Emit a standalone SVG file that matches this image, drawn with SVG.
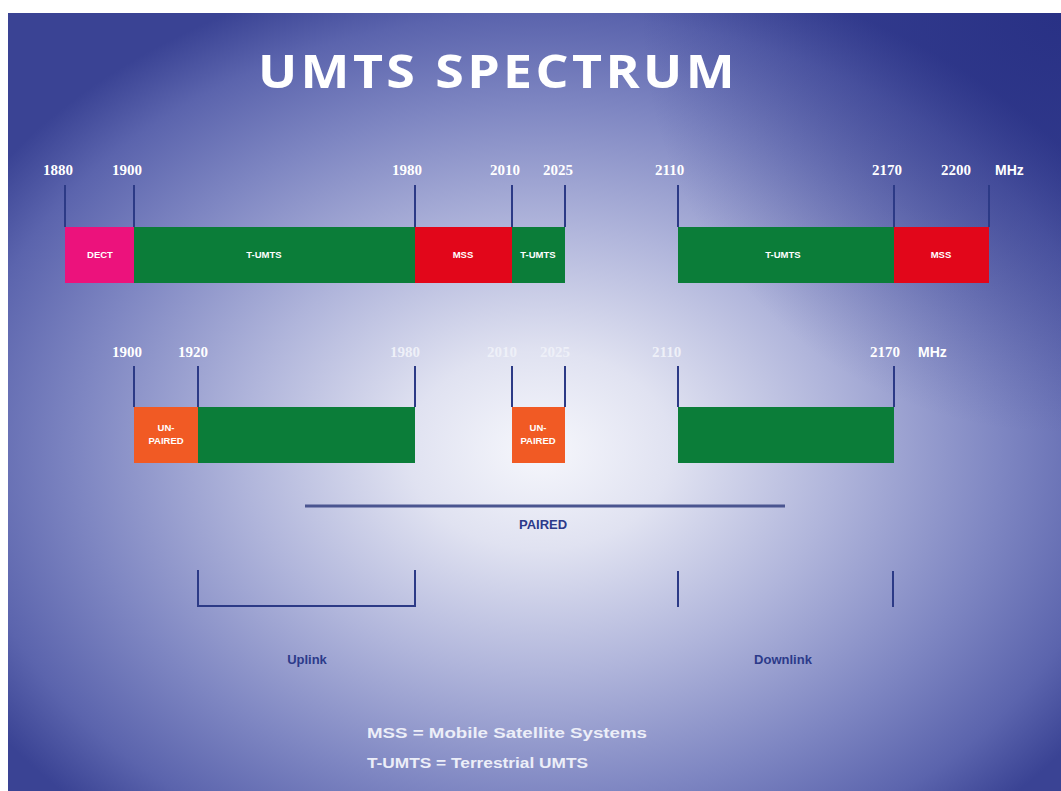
<svg xmlns="http://www.w3.org/2000/svg" width="1061" height="791" viewBox="0 0 1061 791">
<defs>
<radialGradient id="bg" gradientUnits="userSpaceOnUse" cx="540" cy="450" r="660" gradientTransform="translate(540 450) scale(1 0.75) translate(-540 -450)">
<stop offset="0" stop-color="#f6f7fc"/>
<stop offset="0.2" stop-color="#e0e2f1"/>
<stop offset="0.45" stop-color="#b0b5db"/>
<stop offset="0.7" stop-color="#7e86c2"/>
<stop offset="0.88" stop-color="#5b64ad"/>
<stop offset="1" stop-color="#3a4394"/>
</radialGradient>
<radialGradient id="corner" gradientUnits="userSpaceOnUse" cx="1061" cy="13" r="420">
<stop offset="0" stop-color="#232b80" stop-opacity="0.75"/>
<stop offset="1" stop-color="#232b80" stop-opacity="0"/>
</radialGradient>
<style>
.tick{stroke:#2c3a86;stroke-width:2;fill:none}
.num{font-family:"Liberation Serif","DejaVu Serif",serif;font-weight:bold;font-size:15px;fill:#ffffff}
.numf{font-family:"Liberation Serif","DejaVu Serif",serif;font-weight:bold;font-size:15px;fill:#eef0f8}
.mhz{font-family:"Liberation Sans",Arial,sans-serif;font-weight:bold;font-size:14px;fill:#ffffff}
.blab{font-family:"Liberation Sans",Arial,sans-serif;font-weight:bold;font-size:9.5px;fill:#ffffff;text-anchor:middle}
.dlab{font-family:"Liberation Sans",Arial,sans-serif;font-weight:bold;font-size:13px;fill:#2c3a8a;text-anchor:middle}
.leg{font-family:"Liberation Sans",Arial,sans-serif;font-weight:bold;font-size:14px;fill:#eceef8}
.green{fill:#0b7d39}
.red{fill:#e2061a}
.pink{fill:#ec127c}
.orange{fill:#f15a24}
</style>
</defs>
<rect x="0" y="0" width="1061" height="791" fill="#ffffff"/>
<rect x="8" y="13" width="1053" height="778" fill="url(#bg)"/>
<rect x="8" y="13" width="1053" height="778" fill="url(#corner)"/>
<text x="258" y="88" textLength="480" lengthAdjust="spacingAndGlyphs" font-family="'Open Sans','Liberation Sans',sans-serif" font-weight="bold" font-size="46" letter-spacing="3" fill="#ffffff">UMTS SPECTRUM</text>

<g id="connectors">
<path class="tick" d="M65 185V227M134 185V227M415 185V227M512 185V227M565 185V227M678 185V227M894 185V227M989 185V227"/>
<path class="tick" d="M134 366V407M198 366V407M415 366V407M512 366V407M565 366V407M678 366V407M894 366V407"/>
<line x1="305" y1="506" x2="785" y2="506" stroke="#4a5590" stroke-width="3"/>
<path class="tick" d="M198 570V606H415V570"/>
<path class="tick" d="M678 571V607M893 571V607"/>
</g>

<g id="top-labels">
<text class="num" x="43" y="175">1880</text>
<text class="num" x="112" y="175">1900</text>
<text class="num" x="392" y="175">1980</text>
<text class="num" x="490" y="175">2010</text>
<text class="num" x="543" y="175">2025</text>
<text class="num" x="655" y="175">2110</text>
<text class="num" x="872" y="175">2170</text>
<text class="num" x="941" y="175">2200</text>
<text class="mhz" x="995" y="175">MHz</text>
</g>

<g id="dect"><rect class="pink" x="65" y="227" width="69" height="56"/><text class="blab" x="100" y="258">DECT</text></g>
<g id="tumts1"><rect class="green" x="134" y="227" width="281" height="56"/><text class="blab" x="264" y="258">T-UMTS</text></g>
<g id="mss1"><rect class="red" x="415" y="227" width="97" height="56"/><text class="blab" x="463" y="258">MSS</text></g>
<g id="tumts2"><rect class="green" x="512" y="227" width="53" height="56"/><text class="blab" x="538" y="258">T-UMTS</text></g>
<g id="tumts3"><rect class="green" x="678" y="227" width="216" height="56"/><text class="blab" x="783" y="258">T-UMTS</text></g>
<g id="mss2"><rect class="red" x="894" y="227" width="95" height="56"/><text class="blab" x="941" y="258">MSS</text></g>

<g id="mid-labels">
<text class="num" x="112" y="357">1900</text>
<text class="num" x="178" y="357">1920</text>
<text class="numf" x="390" y="357">1980</text>
<text class="numf" x="487" y="357">2010</text>
<text class="numf" x="540" y="357">2025</text>
<text class="numf" x="652" y="357">2110</text>
<text class="num" x="870" y="357">2170</text>
<text class="mhz" x="918" y="357">MHz</text>
</g>

<g id="unpaired1"><rect class="orange" x="134" y="407" width="64" height="56"/><text class="blab" x="166" y="431">UN-</text><text class="blab" x="166" y="444">PAIRED</text></g>
<g id="uplink-band"><rect class="green" x="198" y="407" width="217" height="56"/></g>
<g id="unpaired2"><rect class="orange" x="512" y="407" width="53" height="56"/><text class="blab" x="538" y="431">UN-</text><text class="blab" x="538" y="444">PAIRED</text></g>
<g id="downlink-band"><rect class="green" x="678" y="407" width="216" height="56"/></g>

<g id="paired"><text class="dlab" x="543" y="529">PAIRED</text></g>
<g id="uplink"><text class="dlab" x="307" y="664">Uplink</text></g>
<g id="downlink"><text class="dlab" x="783" y="664">Downlink</text></g>

<g id="legend">
<text class="leg" x="367" y="738" textLength="280" lengthAdjust="spacingAndGlyphs">MSS = Mobile Satellite Systems</text>
<text class="leg" x="367" y="768" textLength="221" lengthAdjust="spacingAndGlyphs">T-UMTS = Terrestrial UMTS</text>
</g>
</svg>
